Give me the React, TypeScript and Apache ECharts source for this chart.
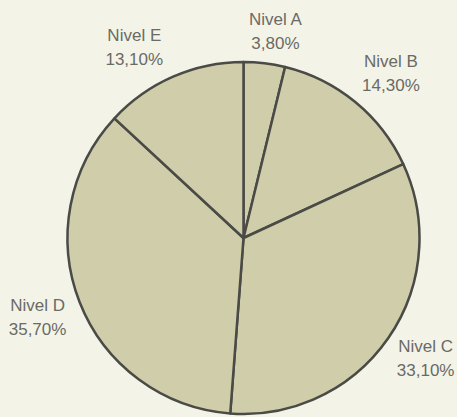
import React, { useEffect, useRef } from "react";
import * as echarts from "echarts";

const categories = ["Nivel A", "Nivel B", "Nivel C", "Nivel D", "Nivel E"];
const values = [3.8, 14.3, 33.1, 35.7, 13.1];

// small per-label nudges (px) to match the reference label placement
const labelNudges: [number, number][] = [
  [6, 10],
  [9, 4],
  [3, -4],
  [-3, 0],
  [-22, 9],
];

const fmt = (v: number) => v.toFixed(2).replace(".", ",") + "%";

export default function App() {
  const ref = useRef<HTMLDivElement>(null);
  useEffect(() => {
    if (!ref.current) return;
    const chart = echarts.init(ref.current, undefined, { renderer: "svg" });
    const data = categories.map((name, i) => ({ name, value: values[i] }));
    chart.setOption({
      animation: false,
      backgroundColor: "#f3f4e7",
      series: [
        {
          type: "pie",
          center: [243.5, 238],
          radius: [0, 176],
          startAngle: 90,
          clockwise: true,
          silent: true,
          data,
          label: { show: false },
          labelLine: { show: false },
          itemStyle: {
            color: "#d0cdaa",
            borderColor: "#4a4a46",
            borderWidth: 2.5,
          },
          emphasis: { disabled: true },
        },
        {
          type: "pie",
          center: [243.5, 238],
          radius: [177, 253],
          startAngle: 90,
          clockwise: true,
          silent: true,
          avoidLabelOverlap: false,
          data,
          itemStyle: { color: "rgba(0,0,0,0)", borderWidth: 0 },
          label: {
            show: true,
            position: "inside",
            rotate: 0,
            formatter: (p: any) => p.name + "\n" + fmt(p.value),
            fontFamily: "'Liberation Sans', Arial, sans-serif",
            fontSize: 17,
            lineHeight: 24,
            color: "#6a6a66",
            align: "center",
          },
          labelLine: { show: false },
          labelLayout: (params: any) => {
            const n = labelNudges[params.dataIndex] || [0, 0];
            return { dx: n[0], dy: n[1] };
          },
          emphasis: { disabled: true },
        },
      ],
    });
    return () => chart.dispose();
  }, []);
  return (
    <div
      ref={ref}
      style={{ position: "fixed", left: 0, top: 0, width: 457, height: 417 }}
    />
  );
}
